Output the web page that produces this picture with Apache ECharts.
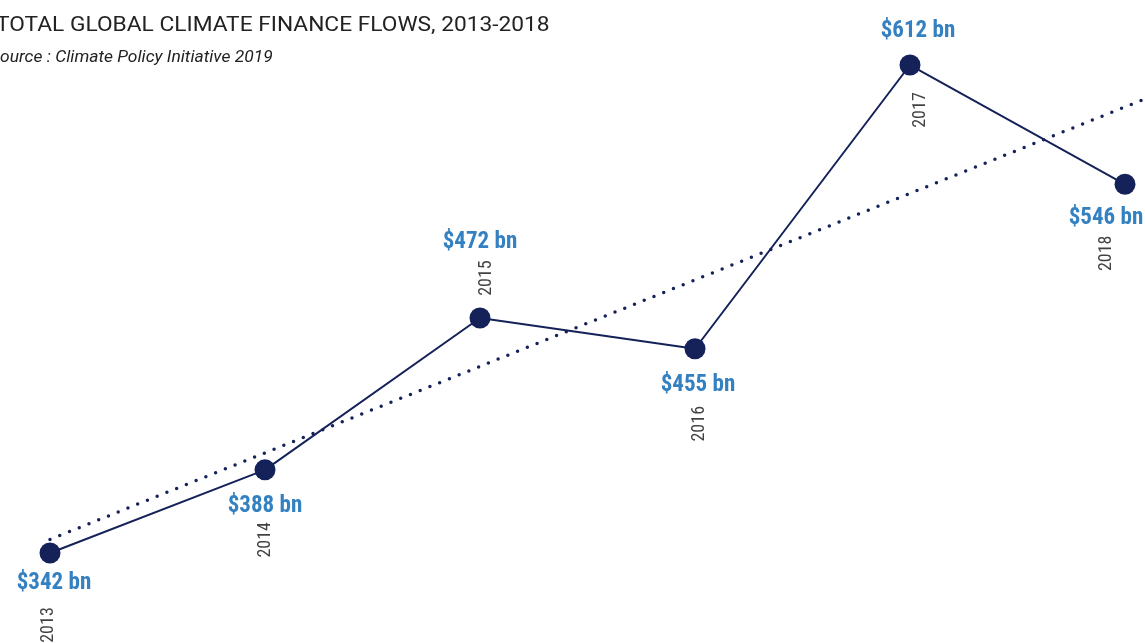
<!DOCTYPE html>
<html><head><meta charset="utf-8">
<script src="https://cdn.jsdelivr.net/npm/echarts@6/dist/echarts.min.js"></script>
<style>html,body{margin:0;padding:0;background:#fff}#c{width:1145px;height:643px}</style>
</head><body><div id="c"></div>
<script>
const years = [2013, 2014, 2015, 2016, 2017, 2018];
const values = [342, 388, 472, 455, 612, 546];
const valueLabels = ['$342 bn', '$388 bn', '$472 bn', '$455 bn', '$612 bn', '$546 bn'];
const titleText = 'TOTAL GLOBAL CLIMATE FINANCE FLOWS, 2013-2018';
const sourceText = 'Source : Climate Policy Initiative 2019';

// layout: screen offsets (px) of labels from each point
const valueOffset = [[4, 30], [0, 36], [0, -76], [3, 36], [8, -34], [-19, 34]];
const yearOffset = [[-2, 72], [0, 70], [6, -40], [4, 75], [10, 45], [-19, 69]];

const NAVY = '#15225a', BLUE = '#3481c1';
const COND = '"Roboto Condensed","Liberation Sans Narrow","DejaVu Sans Condensed",Roboto,sans-serif';

// linear trend (least squares)
const n = years.length;
const mx = years.reduce((a, b) => a + b, 0) / n;
const my = values.reduce((a, b) => a + b, 0) / n;
let sxy = 0, sxx = 0;
for (let i = 0; i < n; i++) { sxy += (years[i] - mx) * (values[i] - my); sxx += (years[i] - mx) ** 2; }
const slope = sxy / sxx, icpt = my - slope * mx;
const GRID_LEFT = 50, STEP = 215;
const xMin = 2013, xMax = 2013 + (1145 - GRID_LEFT) / STEP;
const trend = [[xMin, icpt + slope * xMin], [xMax, icpt + slope * xMax]];

const chart = echarts.init(document.getElementById('c'), null, { renderer: 'canvas' });
chart.setOption({
  animation: false,
  grid: { left: GRID_LEFT, right: 0, top: 14.4, bottom: 14.1 },
  xAxis: { type: 'value', min: xMin, max: xMax, show: false },
  yAxis: { type: 'value', min: 300, max: 640, show: false },
  graphic: [
    { type: 'text', left: -4, top: 15, scaleX: 1.082, style: { text: titleText, font: '400 21px Roboto', fill: '#222' } },
    { type: 'text', left: -10, top: 50, scaleX: 1.09, style: { text: sourceText, font: 'italic 16px Roboto', fill: '#222' } }
  ],
  series: [
    {
      type: 'line', data: trend, symbol: 'none', silent: true, z: 1,
      lineStyle: { color: NAVY, width: 3.5, type: [0, 10.5], cap: 'round' }
    },
    {
      type: 'line', z: 2,
      data: years.map((y, i) => ({
        value: [y, values[i]],
        label: { show: true, position: 'inside', offset: valueOffset[i], formatter: valueLabels[i] }
      })),
      symbol: 'circle', symbolSize: 21,
      itemStyle: { color: NAVY },
      lineStyle: { color: NAVY, width: 2 },
      label: { color: BLUE, fontFamily: COND, fontWeight: 'bold', fontSize: 23, align: 'center', verticalAlign: 'middle' }
    },
    {
      type: 'scatter', z: 3, symbolSize: 1, itemStyle: { color: 'rgba(0,0,0,0)' },
      data: years.map((y, i) => ({
        value: [y, values[i]],
        // label offset is applied in the rotated frame: screen (sx, sy) -> [-sy, sx]
        label: { show: true, position: 'inside', offset: [-yearOffset[i][1], yearOffset[i][0]], formatter: String(y) }
      })),
      label: { color: '#111', fontFamily: COND, fontSize: 18, rotate: 90, align: 'center', verticalAlign: 'middle' }
    }
  ]
});
</script></body></html>
